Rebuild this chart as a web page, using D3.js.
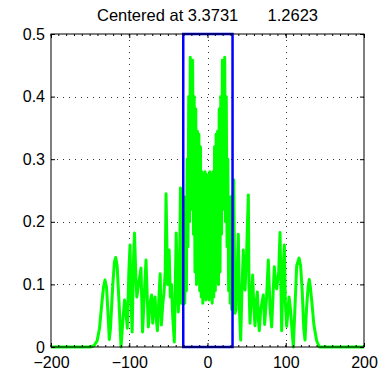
<!DOCTYPE html>
<html>
<head>
<meta charset="utf-8">
<script src="https://cdn.jsdelivr.net/npm/d3@7"></script>
<style>
  html, body { margin: 0; padding: 0; background: #fff; }
  svg { display: block; font-family: "Liberation Sans", Arial, Helvetica, sans-serif; }
</style>
</head>
<body>
<svg id="chart" width="381" height="375"></svg>
<script>
// Spectrum magnitude (green) versus frequency bin
const freq = [
  -200, -150, -145, -141, -138, -135, -133, -131, -129, -127, -125.5, -124, -121, -119, -117.3, -115.5, -113, -110.5,
  -108, -106, -104.5, -102.5, -100.5, -99, -97.5, -96.3, -94.5, -93.3, -91.5, -90.3, -88.5, -85, -83, -80.5,
  -78.6, -77, -75.6, -73.5, -71.4, -70, -68.5, -67, -65.5, -64, -62, -60.5, -59, -57, -55.6, -54,
  -53, -51, -49, -47.5, -46, -44.5, -42.4, -40, -38.5, -37.3, -36, -34.5, -33.5, -32.5,
  -31, -30, -29, -28, -27, -26, -25, -24, -23, -22, -21, -20, -19.5, -19, -18, -17, -16, -15, -14, -13,
  -12, -11, -10, -9, -8, -7, -6, -5, -4, -3, -2, -1, 0,
  1, 2, 3, 4, 5, 6, 7, 8, 9, 10, 11, 12, 13, 14, 15, 16, 17, 18, 19, 19.5, 20, 21, 22, 23, 24, 25,
  26, 27, 28, 29, 30, 31,
  32.5, 33.5, 35, 36.4, 37.5, 39.4, 40.8, 42.4, 44, 45.8, 47, 48, 50, 52.2, 53, 54.3, 56, 57.7, 59, 60.7,
  62, 63.7, 65, 66.2, 68, 69.5, 71.3, 73, 75.5, 77.7, 80, 82, 84, 85.4, 87, 88.4, 91, 92.7, 94.8,
  96.5, 98.2, 99.5, 101.2, 103, 104.2, 106, 107.8, 109.7, 112, 114, 117, 119, 121, 123, 124.6,
  126.5, 128.5, 130.1, 131.5, 133.5, 136, 139.5, 143, 150, 200
];
const mag = [
  0, 0, 0.002, 0.01, 0.03, 0.07, 0.095, 0.107, 0.095, 0.05, 0.012, 0.03, 0.1, 0.135, 0.143, 0.13, 0.07, 0.0,
  0.045, 0.075, 0.06, 0.03, 0.12, 0.163, 0.07, 0.024, 0.14, 0.182, 0.11, 0.08, 0.096, 0.126, 0.024, 0.09,
  0.139, 0.08, 0.032, 0.07, 0.083, 0.038, 0.07, 0.08, 0.045, 0.026, 0.08, 0.117, 0.035, 0.07, 0.086, 0.12,
  0.245, 0.1, 0.155, 0.08, 0.1, 0.05, 0.008, 0.182, 0.1, 0.056, 0.1, 0.254, 0.07, 0.22,
  0.07, 0.24, 0.07, 0.23, 0.09, 0.30, 0.16, 0.40, 0.20, 0.463, 0.22, 0.40, 0.24, 0.458, 0.18, 0.40, 0.12, 0.38, 0.10, 0.345,
  0.11, 0.34, 0.09, 0.32, 0.08, 0.28, 0.07, 0.275, 0.08, 0.28, 0.075, 0.275, 0.08,
  0.275, 0.075, 0.28, 0.08, 0.275, 0.07, 0.28, 0.08, 0.32, 0.09, 0.34, 0.11, 0.345, 0.10, 0.38, 0.12, 0.40, 0.18, 0.458, 0.24, 0.40, 0.22, 0.463, 0.20, 0.40, 0.16,
  0.30, 0.09, 0.23, 0.07, 0.24, 0.06,
  0.22, 0.267, 0.054, 0.059, 0.1, 0.18, 0.06, 0.011, 0.09, 0.155, 0.1, 0.091, 0.15, 0.243, 0.1, 0.038, 0.08, 0.115, 0.07, 0.034,
  0.07, 0.088, 0.045, 0.026, 0.06, 0.07, 0.083, 0.036, 0.08, 0.139, 0.06, 0.032, 0.09, 0.128, 0.1, 0.093, 0.12, 0.183, 0.026,
  0.12, 0.163, 0.07, 0.033, 0.06, 0.08, 0.06, 0.03, 0.0, 0.07, 0.13, 0.142, 0.13, 0.09, 0.03, 0.011,
  0.06, 0.095, 0.108, 0.095, 0.07, 0.035, 0.01, 0.0, 0, 0
];

// Selected window (blue box) bounds and title values
const windowBounds = [-31, 32];
const centerValues = ["3.3731", "1.2623"];

const xTicks = [-200, -100, 0, 100, 200];
const yTicks = [0, 0.1, 0.2, 0.3, 0.4, 0.5];
const xMinorTicks = d3.range(-200, 201, 10);

const svg = d3.select("#chart");
const margin = { left: 51, right: 17, top: 34, bottom: 28 };
const W = 381, H = 375;
const FONT = 16, TITLE_FONT = 16.5;
const x = d3.scaleLinear().domain([-200, 200]).range([margin.left, W - margin.right]);
const y = d3.scaleLinear().domain([0, 0.5]).range([H - margin.bottom, margin.top]);

const fmtX = d => (d < 0 ? "\u2212" + Math.abs(d) : String(d));
const fmtY = d => (d === 0 ? "0" : d3.format(".1f")(d));

// Dotted grid
const grid = svg.append("g").attr("stroke", "#333").attr("stroke-width", 1)
  .attr("stroke-dasharray", "1,5").attr("shape-rendering", "crispEdges");
grid.selectAll("line.gx").data(xTicks.slice(1, -1)).join("line")
  .attr("x1", d => Math.round(x(d)) + 0.5).attr("x2", d => Math.round(x(d)) + 0.5)
  .attr("y1", y(0.5)).attr("y2", y(0));
grid.selectAll("line.gy").data(yTicks.slice(1, -1)).join("line")
  .attr("y1", d => Math.round(y(d)) + 0.5).attr("y2", d => Math.round(y(d)) + 0.5)
  .attr("x1", x(-200)).attr("x2", x(200));

// Spectrum line
const line = d3.line().x((d, i) => x(freq[i])).y(d => y(d));
svg.append("path").datum(mag)
  .attr("fill", "none").attr("stroke", "#00ff00").attr("stroke-width", 3)
  .attr("stroke-linejoin", "round").attr("d", line);

// Window box
svg.append("rect")
  .attr("x", x(windowBounds[0])).attr("y", y(0.5))
  .attr("width", x(windowBounds[1]) - x(windowBounds[0]))
  .attr("height", y(0) - y(0.5))
  .attr("fill", "none").attr("stroke", "#0000ff").attr("stroke-width", 2.5);

// Axes (inward ticks on all four sides)
const tickLen = 4, minorLen = 2;
const axisBottom = d3.axisBottom(x).tickValues(xTicks).tickFormat(fmtX).tickSizeInner(-tickLen).tickSizeOuter(0).tickPadding(10);
const axisLeft = d3.axisLeft(y).tickValues(yTicks).tickFormat(fmtY).tickSizeInner(-tickLen).tickSizeOuter(0).tickPadding(6);
const axisTop = d3.axisTop(x).tickValues(xTicks).tickFormat("").tickSizeInner(-tickLen).tickSizeOuter(0);
const axisRight = d3.axisRight(y).tickValues(yTicks).tickFormat("").tickSizeInner(-tickLen).tickSizeOuter(0);

function styleAxis(g) {
  g.select(".domain").remove();
  g.selectAll(".tick line").attr("stroke", "#000");
  g.selectAll(".tick text").attr("fill", "#000").attr("font-size", FONT)
    .attr("font-family", "'Liberation Sans', Arial, sans-serif");
}
svg.append("g").attr("transform", `translate(0,${y(0)})`).call(axisBottom).call(styleAxis);
svg.append("g").attr("transform", `translate(${x(-200)},0)`).call(axisLeft).call(styleAxis);
svg.append("g").attr("transform", `translate(0,${y(0.5)})`).call(axisTop).call(styleAxis);
svg.append("g").attr("transform", `translate(${x(200)},0)`).call(axisRight).call(styleAxis);

// Minor x ticks, top and bottom
const minor = svg.append("g").attr("stroke", "#000").attr("stroke-width", 1);
minor.selectAll("line.mb").data(xMinorTicks).join("line")
  .attr("x1", d => x(d)).attr("x2", d => x(d)).attr("y1", y(0)).attr("y2", y(0) - minorLen);
minor.selectAll("line.mt").data(xMinorTicks).join("line")
  .attr("x1", d => x(d)).attr("x2", d => x(d)).attr("y1", y(0.5)).attr("y2", y(0.5) + minorLen);

// Frame
svg.append("rect")
  .attr("x", x(-200)).attr("y", y(0.5))
  .attr("width", x(200) - x(-200)).attr("height", y(0) - y(0.5))
  .attr("fill", "none").attr("stroke", "#000").attr("stroke-width", 1);

// Title: two values, spread across the top of the axes
const title = svg.append("g").attr("font-size", TITLE_FONT).attr("fill", "#000");
title.append("text").attr("x", 97).attr("y", 21).attr("text-anchor", "start")
  .text(`Centered at ${centerValues[0]}`);
title.append("text").attr("x", 318).attr("y", 21).attr("text-anchor", "end")
  .text(centerValues[1]);
</script>
</body>
</html>
